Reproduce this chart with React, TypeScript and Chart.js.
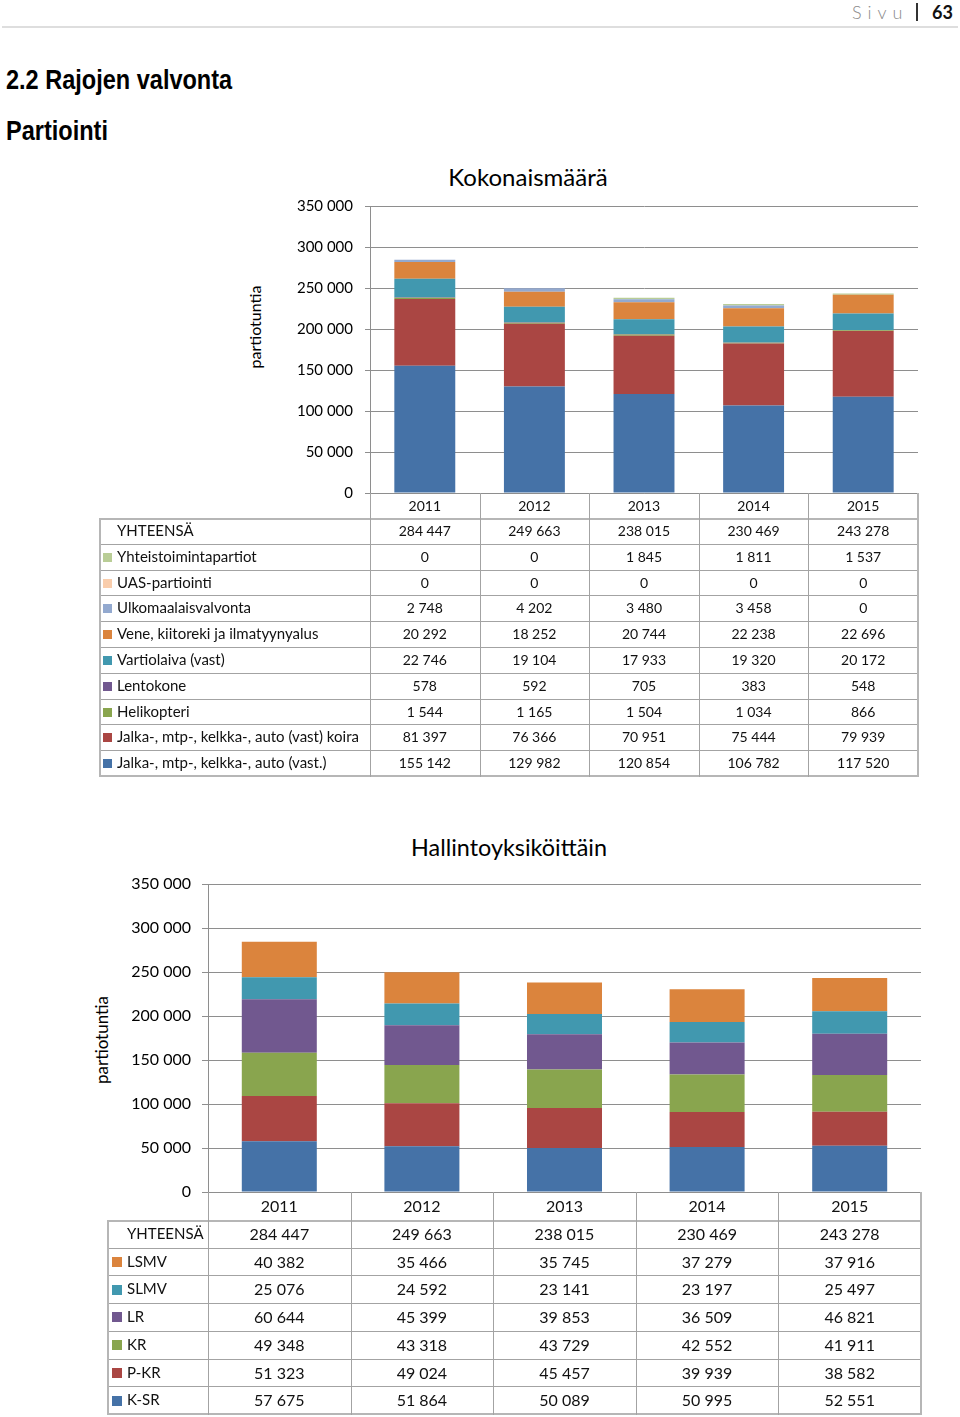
import React, { useEffect, useRef } from "react";
import { Chart, registerables } from "chart.js";

Chart.register(...registerables);

// ---------- data ----------
const years = ["2011", "2012", "2013", "2014", "2015"];
const totals = [284447, 249663, 238015, 230469, 243278];

// Chart 1 (Kokonaismäärä), bottom to top of stack
const jalkaVast = [155142, 129982, 120854, 106782, 117520];
const jalkaKoira = [81397, 76366, 70951, 75444, 79939];
const helikopteri = [1544, 1165, 1504, 1034, 866];
const lentokone = [578, 592, 705, 383, 548];
const vartiolaiva = [22746, 19104, 17933, 19320, 20172];
const vene = [20292, 18252, 20744, 22238, 22696];
const ulkomaalais = [2748, 4202, 3480, 3458, 0];
const uas = [0, 0, 0, 0, 0];
const yhteistoiminta = [0, 0, 1845, 1811, 1537];

const series1Labels = [
  "Jalka-, mtp-, kelkka-, auto (vast.)",
  "Jalka-, mtp-, kelkka-, auto (vast) koira",
  "Helikopteri",
  "Lentokone",
  "Vartiolaiva (vast)",
  "Vene, kiitoreki ja ilmatyynyalus",
  "Ulkomaalaisvalvonta",
  "UAS-partiointi",
  "Yhteistoimintapartiot",
];
const series1Values = [jalkaVast, jalkaKoira, helikopteri, lentokone, vartiolaiva, vene, ulkomaalais, uas, yhteistoiminta];
const series1Colors = ["#4572A7", "#AA4643", "#89A54E", "#71588F", "#4198AF", "#DB843D", "#93A9CF", "#F9CDAC", "#B9CD96"];

// Chart 2 (Hallintoyksiköittäin), bottom to top of stack
const ksr = [57675, 51864, 50089, 50995, 52551];
const pkr = [51323, 49024, 45457, 39939, 38582];
const kr = [49348, 43318, 43729, 42552, 41911];
const lr = [60644, 45399, 39853, 36509, 46821];
const slmv = [25076, 24592, 23141, 23197, 25497];
const lsmv = [40382, 35466, 35745, 37279, 37916];

const series2Labels = ["K-SR", "P-KR", "KR", "LR", "SLMV", "LSMV"];
const series2Values = [ksr, pkr, kr, lr, slmv, lsmv];
const series2Colors = ["#4572A7", "#AA4643", "#89A54E", "#71588F", "#4198AF", "#DB843D"];

const yMax = 350000;
const yStep = 50000;

// ---------- helpers ----------
const FONT = "Lato, 'Open Sans', sans-serif";
const GRID = "#8e8e8e";
const fmt = (n: number) => String(Math.round(n)).replace(/\B(?=(\d{3})+(?!\d))/g, " ");

type ChartProps = {
  left: number; top: number; width: number; height: number;
  labels: string[]; values: number[][]; colors: string[];
  padding: { left: number; right: number; top: number; bottom: number };
  yWidth: number; tickLength: number; tickPadding: number; barPct: number; fontSize: number;
};

function StackedChart(p: ChartProps) {
  const ref = useRef<HTMLCanvasElement>(null);
  useEffect(() => {
    const chart = new Chart(ref.current as HTMLCanvasElement, {
      type: "bar",
      data: {
        labels: years,
        datasets: p.labels.map((l, i) => ({
          label: l,
          data: p.values[i],
          backgroundColor: p.colors[i],
          borderWidth: 0,
          barPercentage: p.barPct,
          categoryPercentage: 1,
        })),
      },
      options: {
        responsive: false,
        animation: false,
        devicePixelRatio: 1,
        layout: { padding: p.padding },
        plugins: { legend: { display: false }, title: { display: false }, tooltip: { enabled: false } },
        scales: {
          x: {
            stacked: true,
            ticks: { display: false },
            grid: { display: false, drawTicks: false },
            border: { display: true, color: GRID, width: 1 },
            afterFit: (s: any) => { s.height = 0; },
          },
          y: {
            stacked: true,
            min: 0,
            max: yMax,
            ticks: {
              stepSize: yStep,
              color: "#000",
              padding: p.tickPadding,
              font: { family: FONT, size: p.fontSize },
              callback: (v: any) => fmt(Number(v)),
            },
            grid: { color: GRID, lineWidth: 1, drawTicks: true, tickLength: p.tickLength },
            border: { display: true, color: GRID, width: 1 },
            afterFit: (s: any) => { s.width = p.yWidth; },
          },
        },
      } as any,
    });
    return () => chart.destroy();
  }, []);
  return (
    <canvas
      ref={ref}
      width={p.width}
      height={p.height}
      style={{ position: "absolute", left: p.left, top: p.top, width: p.width, height: p.height }}
    />
  );
}

type Row = { label: string; color: string | null; values: number[] };
type TableProps = {
  left: number; top: number; col0W: number; colW: number; headerH: number; rowH: number;
  rows: Row[]; fontSize: number; labelSize: number; markerSize: number; markerLeft: number; textLeft: number;
};

function DataTable(p: TableProps) {
  const totalW = p.col0W + p.colW * years.length;
  const bodyH = p.rowH * p.rows.length;
  const totalH = p.headerH + bodyH;
  const inner = "#a3a3a3";
  const outer = "#b6b6b6";
  const els: React.ReactNode[] = [];
  // horizontal lines
  for (let i = 0; i <= p.rows.length; i++) {
    const y = p.headerH + i * p.rowH;
    const isOuter = i === 0 || i === p.rows.length;
    els.push(
      <div key={"h" + i} style={{ position: "absolute", left: 0, top: isOuter && i > 0 ? y - 1 : y, width: totalW, height: isOuter ? 2 : 1, background: isOuter ? outer : inner }} />
    );
  }
  // vertical lines
  els.push(<div key="v0" style={{ position: "absolute", left: 0, top: p.headerH, width: 2, height: bodyH + 1, background: outer }} />);
  for (let j = 0; j <= years.length; j++) {
    const x = p.col0W + j * p.colW;
    const isLast = j === years.length;
    els.push(
      <div key={"v" + (j + 1)} style={{ position: "absolute", left: isLast ? x - 1 : x, top: 0, width: isLast ? 2 : 1, height: totalH + 1, background: isLast ? outer : inner }} />
    );
  }
  const cell = (key: string, x: number, y: number, w: number, h: number, text: string) => (
    <div key={key} style={{ position: "absolute", left: x, top: y, width: w, height: h, lineHeight: h + "px", textAlign: "center", whiteSpace: "nowrap" }}>{text}</div>
  );
  years.forEach((yr, j) => els.push(cell("y" + j, p.col0W + j * p.colW, 0, p.colW, p.headerH, yr)));
  p.rows.forEach((r, i) => {
    const y = p.headerH + i * p.rowH;
    if (r.color) {
      els.push(<div key={"m" + i} style={{ position: "absolute", left: p.markerLeft, top: y + (p.rowH - p.markerSize) / 2 + 0.5, width: p.markerSize, height: p.markerSize, background: r.color }} />);
    }
    els.push(<div key={"l" + i} style={{ position: "absolute", left: p.textLeft, top: y, height: p.rowH, lineHeight: p.rowH + "px", whiteSpace: "nowrap", fontSize: p.labelSize }}>{r.label}</div>);
    r.values.forEach((v, j) => els.push(cell("c" + i + "_" + j, p.col0W + j * p.colW, y, p.colW, p.rowH, fmt(v))));
  });
  return (
    <div style={{ position: "absolute", left: p.left, top: p.top, width: totalW, height: totalH, fontSize: p.fontSize, color: "#111", fontFamily: FONT }}>
      {els}
    </div>
  );
}

function AbsText({ x, y, size, text, rotate }: { x: number; y: number; size: number; text: string; rotate?: boolean }) {
  return (
    <div
      style={{
        position: "absolute", left: x, top: y, fontSize: size, fontFamily: FONT, color: "#000", whiteSpace: "nowrap",
        lineHeight: 1,
        transform: "translate(-50%, -50%)" + (rotate ? " rotate(-90deg)" : ""),
      }}
    >
      {text}
    </div>
  );
}

export default function App() {
  // build table rows (top row of table = last series)
  const rows1: Row[] = [{ label: "YHTEENSÄ", color: null, values: totals }];
  for (let i = series1Labels.length - 1; i >= 0; i--) rows1.push({ label: series1Labels[i], color: series1Colors[i], values: series1Values[i] });
  const rows2: Row[] = [{ label: "YHTEENSÄ", color: null, values: totals }];
  for (let i = series2Labels.length - 1; i >= 0; i--) rows2.push({ label: series2Labels[i], color: series2Colors[i], values: series2Values[i] });

  const headingStyle: React.CSSProperties = {
    position: "absolute", left: 6, fontFamily: "'Liberation Sans', Arial, sans-serif", fontWeight: 700, fontSize: 28,
    lineHeight: 1, whiteSpace: "nowrap", transform: "scaleX(0.84)", transformOrigin: "0 0", color: "#000",
  };

  return (
    <div style={{ position: "absolute", left: 0, top: 0, width: 960, height: 1417, background: "#fff", overflow: "hidden" }}>
      {/* page header */}
      <div style={{ position: "absolute", left: 852, top: 2, height: 20, lineHeight: "20px", fontSize: 18, fontFamily: FONT, color: "#8a8a8a", letterSpacing: 6, fontWeight: 300 }}>Sivu</div>
      <div style={{ position: "absolute", left: 916, top: 3, width: 2, height: 18, background: "#333" }} />
      <div style={{ position: "absolute", left: 932, top: 2, height: 20, lineHeight: "20px", fontSize: 18, fontFamily: FONT, color: "#111", fontWeight: 700 }}>63</div>
      <div style={{ position: "absolute", left: 2, top: 26, width: 956, height: 2, background: "#dedede" }} />

      {/* headings */}
      <div style={{ ...headingStyle, top: 66 }}>2.2 Rajojen valvonta</div>
      <div style={{ ...headingStyle, top: 117 }}>Partiointi</div>

      {/* chart 1 */}
      <AbsText x={528} y={177} size={24} text="Kokonaismäärä" />
      <AbsText x={255} y={327} size={16} text="partiotuntia" rotate />
      <StackedChart
        left={240} top={180} width={700} height={334}
        labels={series1Labels} values={series1Values} colors={series1Colors}
        padding={{ left: 0, right: 22, top: 26, bottom: 21 }}
        yWidth={130} tickLength={5} tickPadding={12} barPct={0.556} fontSize={15}
      />
      <DataTable
        left={99} top={493} col0W={271} colW={109.6} headerH={25} rowH={25.8}
        rows={rows1} fontSize={14} labelSize={15} markerSize={9} markerLeft={4} textLeft={18}
      />

      {/* chart 2 */}
      <AbsText x={509} y={848} size={23.4} text="Hallintoyksiköittäin" />
      <AbsText x={101} y={1040} size={17} text="partiotuntia" rotate />
      <StackedChart
        left={60} top={860} width={880} height={353}
        labels={series2Labels} values={series2Values} colors={series2Colors}
        padding={{ left: 0, right: 19, top: 24, bottom: 21 }}
        yWidth={148} tickLength={6} tickPadding={11} barPct={0.526} fontSize={16}
      />
      <DataTable
        left={107} top={1192} col0W={101} colW={142.6} headerH={28} rowH={27.7}
        rows={rows2} fontSize={16} labelSize={15} markerSize={10} markerLeft={5} textLeft={20}
      />
    </div>
  );
}
